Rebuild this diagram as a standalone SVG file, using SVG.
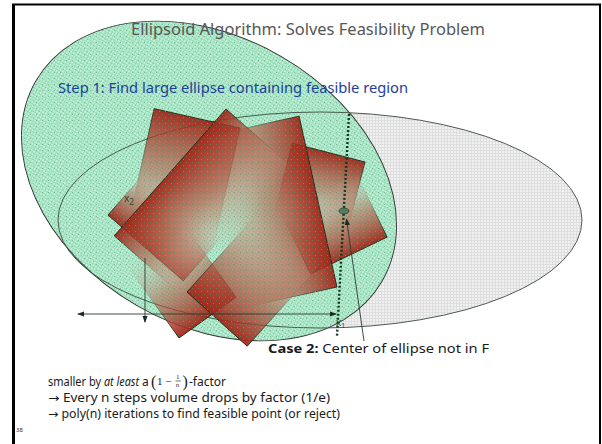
<svg xmlns="http://www.w3.org/2000/svg" width="602" height="444" viewBox="0 0 602 444">
<style>
.t{font-family:"Noto Sans","DejaVu Sans",sans-serif}
.body{font-family:"Noto Sans","DejaVu Sans",sans-serif;font-size:12px;fill:#1a1a1a}
.m{font-family:"Liberation Serif",serif;fill:#1a1a1a}
.lbl{font-family:"Noto Sans","DejaVu Sans",sans-serif;font-size:10px;fill:#1e4a2e}
.rect{fill:url(#rg);stroke:url(#sg);stroke-width:0.9}
.ax{stroke:#2a3a30;stroke-width:0.9;fill:none}
</style>
<defs>
<pattern id="pg" width="3" height="3" patternUnits="userSpaceOnUse">
<rect width="3" height="3" fill="#c2f0d8"/>
<rect width="3" height="1" fill="#9adcba"/>
<rect width="1" height="3" fill="#9adcba"/>
</pattern>
<pattern id="pd" width="6" height="6" patternUnits="userSpaceOnUse">
<rect x="0" y="0" width="1" height="1" fill="#3f9a68"/>
<rect x="3" y="3" width="1" height="1" fill="#6dbd90"/>
</pattern>
<pattern id="pgr" width="3" height="3" patternUnits="userSpaceOnUse">
<rect width="3" height="3" fill="#f1f1f1"/>
<rect width="3" height="1" fill="#dedede"/>
<rect width="1" height="3" fill="#dedede"/>
</pattern>
<linearGradient id="rg" x1="0" y1="0" x2="1" y2="0">
<stop offset="0" stop-color="#a3271a" stop-opacity="0.95"/>
<stop offset="0.5" stop-color="#b8604c" stop-opacity="0.55"/>
<stop offset="1" stop-color="#d8b0a0" stop-opacity="0"/>
</linearGradient>
<linearGradient id="sg" x1="0" y1="0" x2="1" y2="0">
<stop offset="0" stop-color="#1f2a1a" stop-opacity="0.95"/>
<stop offset="0.6" stop-color="#1f2a1a" stop-opacity="0.15"/>
<stop offset="1" stop-color="#1f2a1a" stop-opacity="0"/>
</linearGradient>
<clipPath id="cg"><ellipse cx="0" cy="0" rx="200" ry="144" transform="translate(209 181) rotate(30)"/></clipPath>
<marker id="ah" viewBox="0 0 8 8" refX="7" refY="4" markerWidth="7" markerHeight="7" orient="auto-start-reverse" markerUnits="userSpaceOnUse">
<path d="M0,1 L8,4 L0,7 Z" fill="#1a2a20"/>
</marker>
</defs>
<rect width="602" height="444" fill="#fff"/>
<g id="frame">
<line x1="13.5" y1="4" x2="13.5" y2="444" stroke="#000" stroke-width="3"/>
<line x1="12" y1="4.5" x2="601" y2="4.5" stroke="#000" stroke-width="2"/>
<line x1="600" y1="4" x2="600" y2="444" stroke="#000" stroke-width="2"/>
</g>
<g id="ellipse-gray">
<ellipse cx="320" cy="220" rx="262" ry="108" fill="url(#pgr)"/>
</g>
<g id="ellipse-green">
<ellipse cx="0" cy="0" rx="200" ry="144" transform="translate(209 181) rotate(30)" fill="url(#pg)" stroke="#333" stroke-width="0.9"/>
</g>
<ellipse cx="320" cy="220" rx="262" ry="108" fill="none" stroke="#3a4a40" stroke-width="0.9"/>
<g id="feasible-region">
<rect class="rect" x="0" y="0" width="130" height="88" transform="translate(240 128) rotate(102.7)"/>
<rect class="rect" x="0" y="0" width="60" height="100" transform="translate(108 215) rotate(-48.8)"/>
<rect class="rect" x="0" y="0" width="80" height="75" transform="translate(365 162) rotate(104.5)"/>
<rect class="rect" x="0" y="0" width="70" height="85" transform="translate(310.5 274) rotate(-115.7)"/>
<rect class="rect" x="0" y="0" width="90" height="70" transform="translate(179 338) rotate(-125.6)"/>
<rect class="rect" x="0" y="0" width="110" height="175" transform="translate(337 287) rotate(167.5)"/>
<rect class="rect" x="0" y="0" width="89" height="169" transform="translate(226 109) rotate(41.4)"/>
<rect class="rect" x="0" y="0" width="113" height="81" transform="translate(187 292) rotate(-48)"/>
</g>
<rect x="0" y="0" width="602" height="444" fill="url(#pd)" opacity="0.55" clip-path="url(#cg)"/>
<g id="connectors">
<line class="ax" x1="78" y1="314" x2="336" y2="314" marker-start="url(#ah)" marker-end="url(#ah)"/>
<line class="ax" x1="145" y1="258" x2="145" y2="322" marker-end="url(#ah)"/>
<line x1="349" y1="114" x2="337" y2="336" stroke="#123a22" stroke-width="2.4" stroke-dasharray="2 2"/>
<line class="ax" x1="364" y1="341" x2="346.5" y2="219" marker-end="url(#ah)"/>
</g>
<g id="center">
<ellipse cx="344" cy="211" rx="5" ry="3" fill="#4f7f60" stroke="#1f3a2a" stroke-width="0.7"/>
</g>
<g id="labels">
<text class="lbl" x="124" y="202">x<tspan font-size="8" dy="3">2</tspan></text>
<text class="lbl" x="336" y="326">x<tspan font-size="7" dy="2">1</tspan></text>
</g>
<g id="texts">
<text class="t" x="131" y="35" font-size="16" fill="#575757" textLength="354" lengthAdjust="spacingAndGlyphs">Ellipsoid Algorithm: Solves Feasibility Problem</text>
<text class="t" x="58" y="93" font-size="13.5" fill="#1d3e9c" textLength="350" lengthAdjust="spacingAndGlyphs">Step 1: Find large ellipse containing feasible region</text>
<text class="body" x="268" y="353" textLength="221" lengthAdjust="spacingAndGlyphs"><tspan font-weight="bold">Case 2:</tspan> Center of ellipse not in F</text>
<text class="body" x="48" y="386" textLength="53" lengthAdjust="spacingAndGlyphs">smaller by</text>
<text class="body" x="104" y="386" font-style="italic" textLength="35" lengthAdjust="spacingAndGlyphs">at least</text>
<text class="body" x="142" y="386">a</text>
<text class="m" x="151" y="386.5" font-size="16">(</text>
<text class="m" x="157" y="385" font-size="11">1 −</text>
<text class="m" x="176" y="379" font-size="7">1</text>
<line x1="175.5" y1="381" x2="181" y2="381" stroke="#1a1a1a" stroke-width="0.6"/>
<text class="m" x="175.8" y="386.5" font-size="7" font-style="italic">n</text>
<text class="m" x="182.5" y="386.5" font-size="16">)</text>
<text class="body" x="189" y="386">-factor</text>
<text class="body" x="48" y="402" font-size="11" textLength="282" lengthAdjust="spacingAndGlyphs">→ Every n steps volume drops by factor (1/e)</text>
<text class="body" x="48" y="418" font-size="11" textLength="292" lengthAdjust="spacingAndGlyphs">→ poly(n) iterations to find feasible point (or reject)</text>
<text class="t" x="16" y="432" font-size="6" fill="#333">38</text>
</g>
</svg>
